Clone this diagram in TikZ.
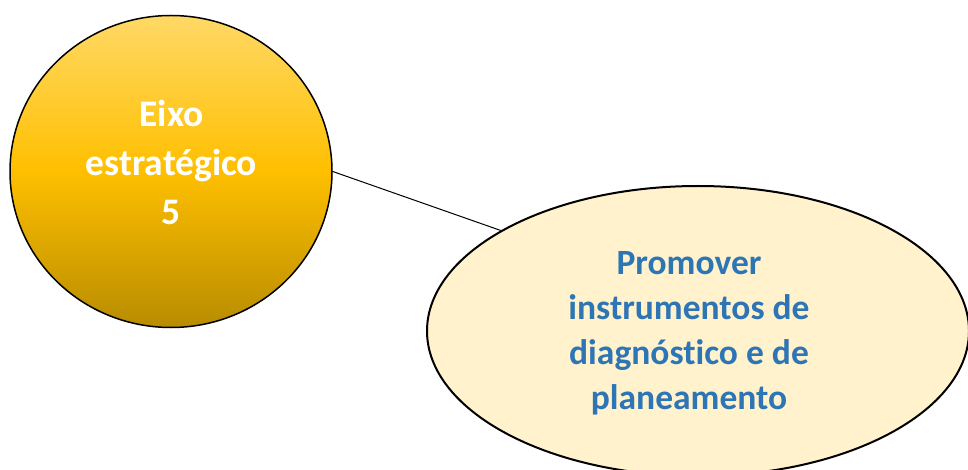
\documentclass[tikz,border=0pt]{standalone}
\usepackage{fontspec}
\setmainfont[Ligatures=NoCommon]{Carlito}
\usetikzlibrary{shapes.geometric}
\definecolor{creamfill}{RGB}{255,242,204}
\definecolor{textblue}{RGB}{46,117,182}
\pgfdeclareverticalshading{goldshade}{100bp}{
  rgb(0bp)=(0.72,0.55,0);
  rgb(25bp)=(0.72,0.55,0);
  rgb(50bp)=(1,0.75,0);
  rgb(75bp)=(1,0.85,0.40);
  rgb(100bp)=(1,0.85,0.40)}
\tikzset{
  axisnode/.style={ellipse, draw=black, line width=1.5pt, inner sep=0pt,
    shading=goldshade,
    minimum width=322pt, minimum height=312pt},
  axistext/.style={inner sep=0pt, text=white, align=center,
    font=\fontsize{37.5}{49}\selectfont\bfseries},
  goalnode/.style={ellipse, draw=black, line width=2pt, inner sep=0pt,
    fill=creamfill, minimum width=542pt, minimum height=290pt},
  goaltext/.style={inner sep=0pt, text=textblue, align=center,
    font=\fontsize{35.5}{45}\selectfont\bfseries},
  linkline/.style={draw=black, line width=1pt}
}
\begin{document}
\begin{tikzpicture}[x=1pt,y=-1pt]
\useasboundingbox (0,0) rectangle (968,470);
\node[goalnode] (goal) at (698,331) {};
\node[goaltext] (goallabel) at (689,333) {Promover\\instrumentos de\\diagnóstico e de\\planeamento};
\node[axisnode] (axis) at (171,171.5) {};
\node[axistext] (axislabel) at (171.5,162) {Eixo\\estratégico\\5};
\draw[linkline] (axis.east) -- (goal.153);
\end{tikzpicture}
\end{document}
